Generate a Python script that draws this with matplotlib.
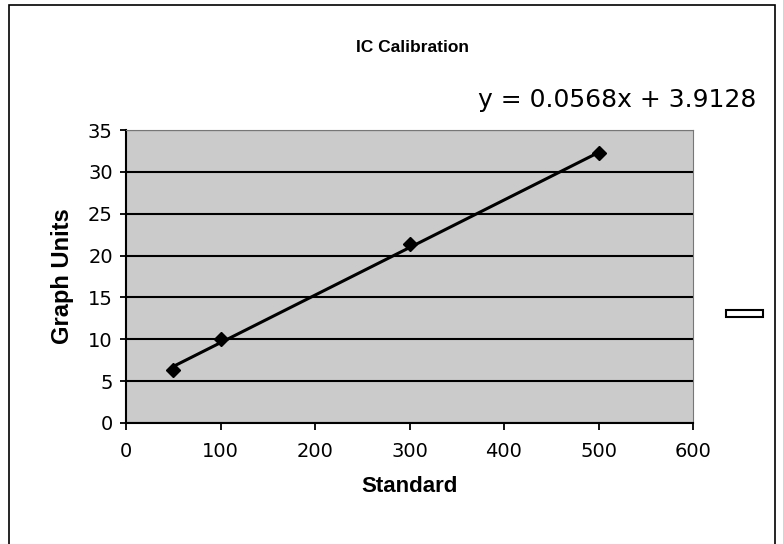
import numpy as np
import matplotlib
matplotlib.use("Agg")
import matplotlib.pyplot as plt
from matplotlib.patches import Rectangle

# data
standard = [50, 100, 300, 500]
graph_units = [6.3, 10.0, 21.4, 32.2]
slope = 0.0568
intercept = 3.9128
x_ticks = [0, 100, 200, 300, 400, 500, 600]
y_ticks = [0, 5, 10, 15, 20, 25, 30, 35]

W, H = 783, 544
plt.rcParams['font.family'] = ['DejaVu Sans']
bold_font = ['Liberation Sans', 'DejaVu Sans']

fig = plt.figure(figsize=(W / 100, H / 100), dpi=100)

# outer chart frame
fig.patches.append(Rectangle((9 / W, -0.05), (775 - 9) / W, 1.05 - 5 / H,
                             transform=fig.transFigure, fill=False,
                             edgecolor='black', linewidth=1.2))

ax = fig.add_axes([126 / W, 1 - 423 / H, (693 - 126) / W, (423 - 130) / H])
ax.set_facecolor('#cbcbcb')

ax.set_xlim(0, 600)
ax.set_ylim(0, 35)
ax.set_xticks(x_ticks)
ax.set_yticks(y_ticks)
ax.yaxis.grid(True, color='black', linewidth=1.5)
ax.set_axisbelow(True)

for side in ['top', 'right']:
    ax.spines[side].set_color('#777777')
    ax.spines[side].set_linewidth(0.8)
for side in ['left', 'bottom']:
    ax.spines[side].set_color('black')
    ax.spines[side].set_linewidth(1.5)

ax.tick_params(axis='both', direction='out', length=4.5, width=1.3,
               labelsize=14, colors='black', pad=5)
ax.tick_params(axis='x', length=5, pad=9)

# trend line over the data range
xs = np.array([min(standard), max(standard)])
ax.plot(xs, slope * xs + intercept, color='black', linewidth=2.2, zorder=3)
ax.plot(standard, graph_units, linestyle='none', marker='D', markersize=7,
        color='black', zorder=4)

ax.set_xlabel('Standard', fontsize=16, fontweight='bold', family=bold_font)
ax.set_ylabel('Graph Units', fontsize=17, fontweight='bold', family=bold_font)
ax.xaxis.set_label_coords(0.5, (423 - 486) / 293)
ax.xaxis.label.set_va('center')
ax.yaxis.set_label_coords((63 - 126) / 567, 0.5)
ax.yaxis.label.set_va('center')

fig.text(412 / W, 1 - 47 / H, 'IC Calibration', ha='center', va='center',
         fontsize=12.5, fontweight='bold', family=bold_font)
fig.text(756 / W, 1 - 100 / H, 'y = %.4fx + %.4f' % (slope, intercept),
         ha='right', va='center', fontsize=18)

# empty legend key
fig.patches.append(Rectangle((726 / W, 1 - 317 / H), 37 / W, 7 / H,
                             transform=fig.transFigure, facecolor='white',
                             edgecolor='black', linewidth=1.5))

fig.savefig('out.png', dpi=100)
